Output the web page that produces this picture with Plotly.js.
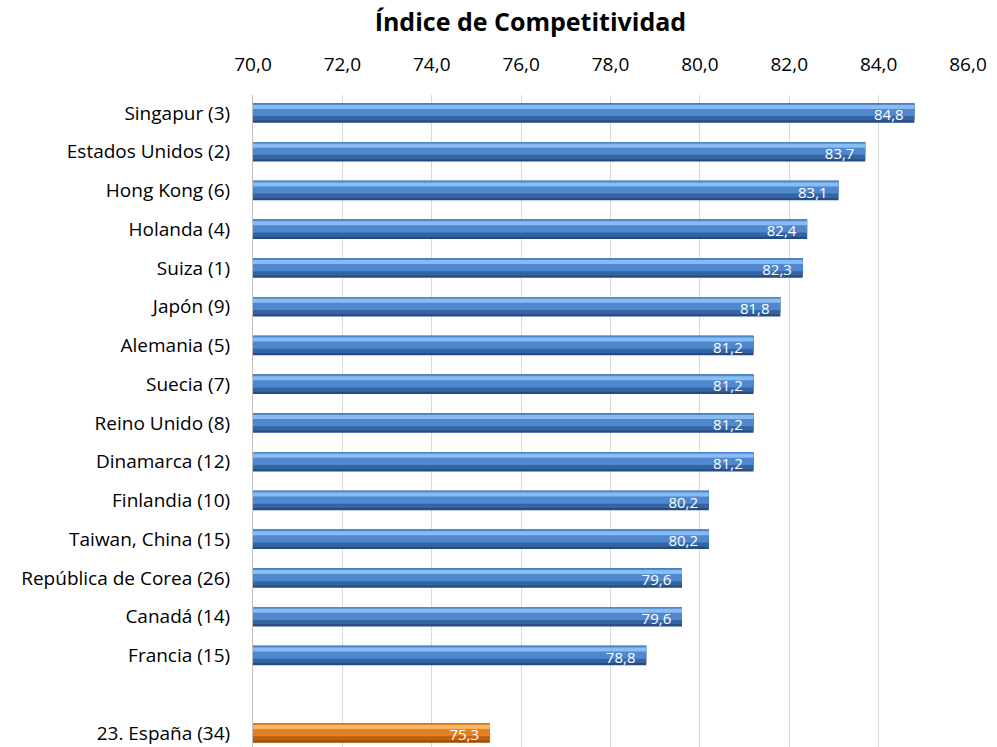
<!DOCTYPE html>
<html>
<head>
<meta charset="utf-8">
<script src="https://cdn.plot.ly/plotly-3.0.1.min.js"></script>
<style>html,body{margin:0;padding:0;background:#fff}#chart{width:997px;height:747px}</style>
</head>
<body>
<div id="chart"></div>
<script>
// Data
const countries = ["Singapur (3)","Estados Unidos (2)","Hong Kong (6)","Holanda (4)","Suiza (1)","Japón (9)","Alemania (5)","Suecia (7)","Reino Unido (8)","Dinamarca (12)","Finlandia (10)","Taiwan, China (15)","República de Corea (26)","Canadá (14)","Francia (15)"," ","23. España (34)"];
const values = [84.8,83.7,83.1,82.4,82.3,81.8,81.2,81.2,81.2,81.2,80.2,80.2,79.6,79.6,78.8,null,75.3];
const tickValues = [70,72,74,76,78,80,82,84,86];

const FONT = "'Open Sans', Lato, sans-serif";
const isSpain = countries.map(c => c.indexOf("España") >= 0);
const edge = isSpain.map(s => s ? "#9a4a08" : "#244c80");
const dark = isSpain.map(s => s ? "#c0610f" : "#3464a2");
const mid = isSpain.map(s => s ? "#e3811f" : "#4f88cf");
const light = isSpain.map(s => s ? "#f8b566" : "#88bcf2");

function layer(color, offset, width){
  return {
    type: "bar", orientation: "h",
    y: countries, x: values,
    offset: offset, width: width,
    marker: {color: color, line: {width: 0}},
    textposition: "none",
    hoverinfo: "skip", showlegend: false
  };
}

const data = [
  layer(edge, -0.25, 0.50),
  layer(dark, -0.25, 0.44),
  layer(mid, -0.25, 0.33),
  layer(light, -0.205, 0.10),
  {type:"bar", orientation:"h", y: countries, x: values, offset:-0.22, width:0.50,
   marker:{color:"rgba(0,0,0,0)", line:{width:0}}, texttemplate:"%{x:.1f}\u00a0\u00a0", textposition:"inside",
   insidetextanchor:"end", constraintext:"none", textfont:{family:FONT,size:15,color:"#ffffff"},
   hoverinfo:"skip", showlegend:false}
];

const layout = {
  width: 997, height: 747,
  margin: {l: 253, r: 29, t: 95, b: 0},
  paper_bgcolor: "#ffffff", plot_bgcolor: "#ffffff",
  separators: ",.",
  barmode: "overlay",
  font: {family: FONT, size: 19, color: "#000000"},
  title: {text: "<b>Índice de Competitividad</b>", font: {family: FONT, size: 25, color: "#000000"},
          x: 0.532, xref: "container", xanchor: "center", y: 0.97, yref: "container", yanchor: "middle"},
  xaxis: {
    side: "top", range: [70, 86], tickvals: tickValues, tickformat: ".1f",
    showgrid: true, gridcolor: "#d9d9d9", gridwidth: 1,
    zeroline: false, showline: false,
    ticks: "outside", ticklen: 15, tickcolor: "rgba(0,0,0,0)",
    tickfont: {family: FONT, size: 19, color: "#000000"}, fixedrange: true
  },
  yaxis: {
    type: "category", categoryorder: "array", categoryarray: countries,
    range: [16.36, -0.465], showgrid: false, zeroline: false,
    showline: true, linecolor: "#bfbfbf", linewidth: 1,
    ticks: "outside", ticklen: 18, tickcolor: "rgba(0,0,0,0)",
    tickfont: {family: FONT, size: 19, color: "#000000"}, fixedrange: true
  }
};

Plotly.newPlot("chart", data, layout, {displayModeBar: false, staticPlot: true});
</script>
</body>
</html>
